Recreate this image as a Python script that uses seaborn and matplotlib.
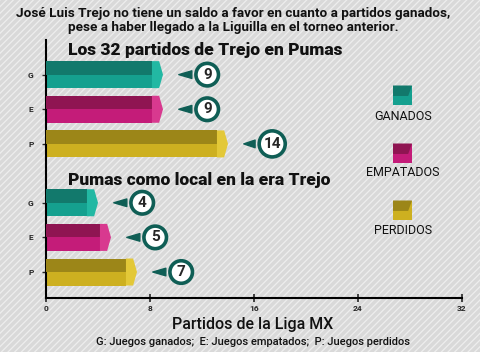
import matplotlib
matplotlib.use("Agg")
import pandas as pd
import seaborn as sns
from matplotlib import pyplot as plt
from matplotlib.patches import Polygon, Rectangle

# Datos
categorias = ["G", "E", "P"]
resultados = ["GANADOS", "EMPATADOS", "PERDIDOS"]
partidos_totales = [9, 9, 14]
partidos_local = [4, 5, 7]
x_ticks = [0, 8, 16, 24, 32]

titulo = ("José Luis Trejo no tiene un saldo a favor en cuanto a partidos ganados,\n"
          "pese a haber llegado a la Liguilla en el torneo anterior.")
subtitulo_1 = "Los 32 partidos de Trejo en Pumas"
subtitulo_2 = "Pumas como local en la era Trejo"
eje_x = "Partidos de la Liga MX"
nota = "G: Juegos ganados;  E: Juegos empatados;  P: Juegos perdidos"

# Colores (cara inferior, cara superior, punta)
col_abajo = ["#15a08f", "#c41c79", "#cdb020"]
col_arriba = ["#12796c", "#8f1552", "#9c8618"]
col_punta = ["#22b8a3", "#d8398f", "#e3c838"]
verde_borde = "#0f5e55"

sns.set_style("white")
plt.rcParams["font.family"] = ["Roboto", "DejaVu Sans"]
plt.rcParams["hatch.linewidth"] = 0.9

fig = plt.figure(figsize=(4.8, 3.52), dpi=100, facecolor="#d9d9d9")
fondo = Rectangle((0, 0), 1, 1, transform=fig.transFigure, facecolor="#d9d9d9",
                  edgecolor="#eeeeee", hatch="/////", lw=0, zorder=-10)
fig.patches.append(fondo)

ax = fig.add_axes([46 / 480, 54 / 352, 416 / 480, 258 / 352])
ax.set_facecolor("none")

# posiciones de las filas (dos bloques con hueco para el subtitulo)
posiciones = [1, 2, 3, 4.7, 5.7, 6.7]
df = pd.DataFrame({
    "pos": posiciones,
    "valor": partidos_totales + partidos_local,
    "resultado": resultados * 2,
})

sns.barplot(data=df, x="valor", y="pos", hue="resultado", orient="h", native_scale=True,
            palette=dict(zip(resultados, col_abajo)), width=0.78, dodge=False,
            legend=False, saturation=1, ax=ax, linewidth=0)

ax.set_xlim(0, 32)
ax.set_ylim(7.45, 0)

# efecto 3D + globos con el numero
t = 0.85
for p in list(ax.patches):
    v = p.get_width()
    if v <= 0:
        continue
    y0, h = p.get_y(), p.get_height()
    fc = matplotlib.colors.to_hex(p.get_facecolor())
    i = [c.lower() for c in col_abajo].index(fc)
    p.set_width(v - t)
    ax.add_patch(Rectangle((0, y0), v - t, h / 2, facecolor=col_arriba[i], lw=0, zorder=3))
    ax.add_patch(Polygon([(v - t, y0), (v - t * 0.35, y0), (v, y0 + h / 2),
                          (v - t * 0.35, y0 + h), (v - t, y0 + h)],
                         facecolor=col_punta[i], lw=0, zorder=3))
    yc = y0 + h / 2
    ax.annotate(f"{v:.0f}", xy=(v + 1.0, yc), xytext=(v + 3.4, yc), ha="center", va="center",
                fontsize=11, fontweight="bold", zorder=5,
                bbox=dict(boxstyle="circle,pad=0.28", fc="white", ec=verde_borde, lw=2.6),
                arrowprops=dict(arrowstyle="wedge,tail_width=0.5,shrink_factor=0.5",
                                fc=verde_borde, ec=verde_borde))

ax.set_yticks(posiciones)
ax.set_yticklabels(categorias * 2, fontsize=6, fontweight="bold")
ax.set_xticks(x_ticks)
ax.set_xticklabels([str(x) for x in x_ticks], fontsize=6, fontweight="bold")
ax.tick_params(axis="y", direction="out", length=3, width=1, pad=6, left=True)
ax.tick_params(axis="x", direction="inout", length=6, width=1.2, pad=2, bottom=True)
ax.set_xlabel("")
ax.set_ylabel("")
for s in ["top", "right"]:
    ax.spines[s].set_visible(False)
for s in ["left", "bottom"]:
    ax.spines[s].set_color("black")
    ax.spines[s].set_linewidth(1.5)

ax.text(22 / 416, 1 - 10 / 258, subtitulo_1, transform=ax.transAxes, fontsize=12.5,
        fontweight="black", va="center", ha="left", color="#111111")
ax.text(22 / 416, 1 - 140 / 258, subtitulo_2, transform=ax.transAxes, fontsize=12.5,
        fontweight="black", va="center", ha="left", color="#111111")

fig.text(233 / 480, 1 - 21 / 352, titulo, ha="center", va="center", fontsize=9.7,
         fontweight="bold", linespacing=1.1, color="#111111")
fig.text(253 / 480, 1 - 325 / 352, eje_x, ha="center", va="center", fontsize=11.5,
         fontweight="medium", color="#111111")
fig.text(253 / 480, 1 - 342 / 352, nota, ha="center", va="center", fontsize=8,
         fontweight="medium", color="#111111")

# leyenda a la derecha
leg_y = [95, 153, 210]
lab_y = [116, 173, 231]
for i, r in enumerate(resultados):
    x0, s = 393 / 480, 19
    yb = 1 - (leg_y[i] + s / 2) / 352
    fig.patches.append(Rectangle((x0, yb), s / 480, s / 352, transform=fig.transFigure,
                                 facecolor=col_abajo[i], lw=0))
    fig.patches.append(Polygon([(x0, yb + s / 352), (x0 + s / 480, yb + s / 352),
                                (x0 + 0.8 * s / 480, yb + 0.45 * s / 352), (x0, yb + 0.45 * s / 352)],
                               transform=fig.transFigure, facecolor=col_arriba[i], lw=0))
    fig.text(403 / 480, 1 - lab_y[i] / 352, r, ha="center", va="center", fontsize=9, color="#111111")

fig.savefig("out.png", dpi=100, facecolor=fig.get_facecolor())
